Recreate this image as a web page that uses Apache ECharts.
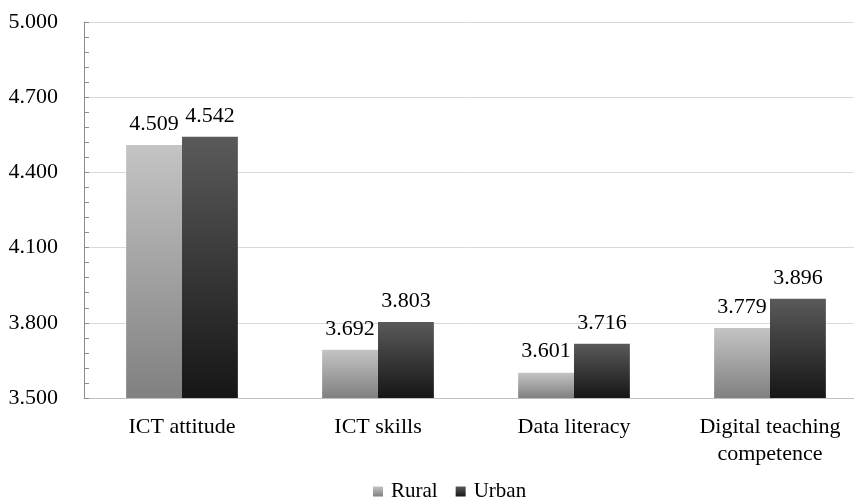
<!DOCTYPE html>
<html><head><meta charset="utf-8">
<script src="https://cdn.jsdelivr.net/npm/echarts@6/dist/echarts.min.js"></script>
<style>html,body{margin:0;padding:0;background:#fff}#c{width:854px;height:500px}</style>
</head><body><div id="c"></div>
<script>
const categories = ['ICT attitude', 'ICT skills', 'Data literacy', 'Digital teaching\ncompetence'];
const rural = [4.509, 3.692, 3.601, 3.779];
const urban = [4.542, 3.803, 3.716, 3.896];
const yTicks = { min: 3.5, max: 5.0, interval: 0.3 };

const font = 'Liberation Serif, Times New Roman, serif';
const grad = (a, b) => new echarts.graphic.LinearGradient(0, 0, 0, 1, [{offset: 0, color: a}, {offset: 1, color: b}]);
const chart = echarts.init(document.getElementById('c'), null, {renderer: 'canvas'});
chart.setOption({
  animation: false,
  textStyle: {fontFamily: font},
  grid: {left: 84, width: 784, top: 22, height: 376, containLabel: false, outerBoundsMode: 'none'},
  legend: {
    top: 481, left: 373, padding: 0, itemWidth: 10, itemHeight: 10, itemGap: 18,
    textStyle: {fontFamily: font, fontSize: 21, color: '#000', padding: [0, 0, 0, 3]},
    data: [{name: 'Rural', icon: 'rect'}, {name: 'Urban', icon: 'rect'}]
  },
  xAxis: {
    type: 'category', data: categories,
    axisLine: {show: true, lineStyle: {color: '#bfbfbf'}},
    axisTick: {show: false},
    axisLabel: {fontFamily: font, fontSize: 22, color: '#000', margin: 16, lineHeight: 27}
  },
  yAxis: {
    type: 'value', min: yTicks.min, max: yTicks.max, interval: yTicks.interval,
    axisLine: {show: true, lineStyle: {color: '#8c8c8c'}},
    axisTick: {show: true, inside: true, length: 5, lineStyle: {color: '#8c8c8c'}},
    minorTick: {show: true, splitNumber: 5, length: 5, lineStyle: {color: '#8c8c8c'}},
    splitLine: {show: true, lineStyle: {color: '#d9d9d9', width: 1}},
    axisLabel: {fontFamily: font, fontSize: 22, color: '#000', margin: 26, formatter: v => v.toFixed(3)}
  },
  series: [
    {
      name: 'Rural', type: 'bar', data: rural, barGap: '0%', barCategoryGap: '43%',
      itemStyle: {color: grad('#c4c4c4', '#808080')},
      label: {show: true, position: 'top', distance: 10, fontFamily: font, fontSize: 22, color: '#000', formatter: p => p.value.toFixed(3)}
    },
    {
      name: 'Urban', type: 'bar', data: urban, barGap: '0%', barCategoryGap: '43%',
      itemStyle: {color: grad('#5a5a5a', '#161616')},
      label: {show: true, position: 'top', distance: 10, fontFamily: font, fontSize: 22, color: '#000', formatter: p => p.value.toFixed(3)}
    }
  ]
});
</script></body></html>
